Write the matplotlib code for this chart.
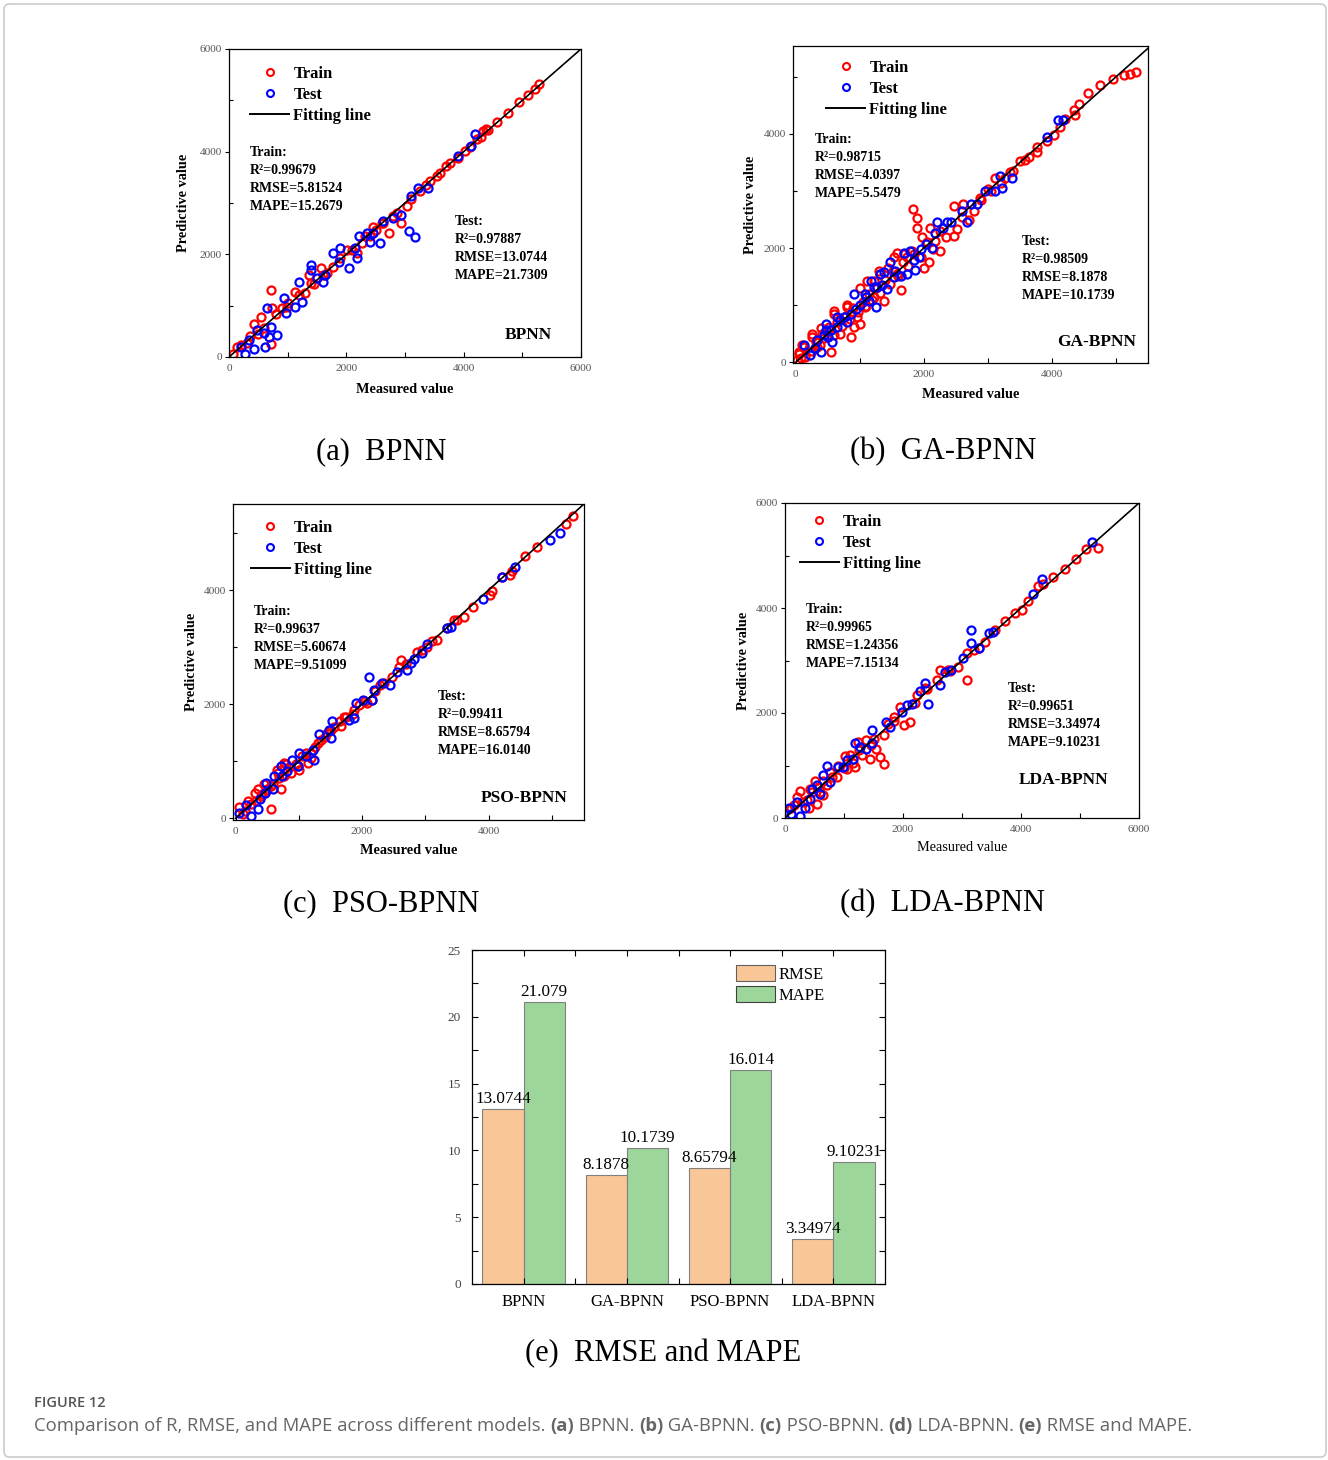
import numpy as np
import matplotlib.pyplot as plt
from matplotlib.lines import Line2D
from matplotlib.patches import FancyBboxPatch, Patch
from matplotlib.ticker import MultipleLocator

plt.rcParams['font.family'] = ['Liberation Serif', 'DejaVu Serif']

# ---------------- data ----------------
a_train_x = [5290, 5210, 5090, 4950, 4750, 4560, 4380, 4330, 4220, 4020, 3760, 3540, 3420, 3250,
             3030, 2940, 2720, 2630, 2460, 2260, 2180, 1780, 1560, 1360, 1300, 1130, 710, 740, 420,
             710, 140, 60, 990, 540, 2010, 1670, 2410, 2860, 3100, 3600, 3700, 4420, 2500, 2320,
             1900, 1450, 1000, 800, 600, 300, 200, 350, 500, 900, 1200, 1400, 1600, 2100, 2600,
             2800, 3350, 3900, 4100, 4300]
a_train_y = [5320, 5220, 5100, 4960, 4760, 4570, 4440, 4400, 4240, 4010, 3780, 3520, 3420, 3230,
             2940, 2610, 2410, 2610, 2540, 2220, 2020, 1760, 1730, 1600, 1240, 1270, 1300, 950, 650,
             260, 200, 65, 980, 780, 2090, 1630, 2350, 2810, 3080, 3580, 3720, 4430, 2480, 2350,
             1920, 1420, 1050, 830, 570, 280, 230, 400, 450, 950, 1200, 1450, 1600, 2080, 2620,
             2750, 3350, 3880, 4100, 4280]
a_test_x = [4190, 4130, 3900, 3400, 3230, 3110, 3170, 3060, 2940, 2800, 2630, 2570, 2400, 2460,
            2350, 2210, 2180, 2150, 2040, 1900, 1780, 1870, 1640, 1610, 1500, 1390, 1390, 1190,
            1250, 1130, 940, 970, 650, 710, 680, 620, 820, 420, 280, 590, 480, 340, 200]
a_test_y = [4350, 4110, 3910, 3290, 3290, 3130, 2330, 2450, 2770, 2710, 2640, 2220, 2250, 2410,
            2410, 2350, 1920, 2120, 1730, 2120, 2020, 1860, 1600, 1470, 1530, 1790, 1700, 1470,
            1080, 980, 1140, 850, 950, 590, 390, 200, 420, 160, 65, 460, 520, 330, 200]

b_train_x = [5320, 5220, 5120, 4960, 4750, 4570, 4420, 4340, 4360, 4210, 4130, 4030, 3920, 3770,
             3770, 3580, 3510, 3350, 3270, 3120, 3010, 2880, 2780, 2620, 2470, 2470, 2520, 2260,
             2180, 2100, 1840, 1900, 1900, 1970, 2000, 2080, 1820, 1740, 1580, 1530, 1450, 1320,
             1220, 1120, 1220, 1090, 960, 910, 810, 700, 600, 520, 420, 700, 550, 260, 130, 50,
             80, 860, 1010, 1380, 1640, 1580, 340, 150, 250, 320, 380, 450, 520, 600, 650, 720,
             780, 850, 900, 980, 1050, 1100, 1150, 1200, 1260, 1320, 1400, 1470, 1520, 1600, 1680,
             1760, 1850, 1950, 2050, 2150, 2250, 2350, 2600, 2700, 2900, 3050, 3200, 3400, 3650,
             1700, 1300, 1000, 800, 600, 400, 250, 100, 60, 30]
b_train_y = [5080, 5055, 5030, 4970, 4850, 4710, 4520, 4420, 4330, 4270, 4130, 3980, 3870, 3780,
             3690, 3550, 3520, 3340, 3230, 3230, 3030, 2880, 2650, 2770, 2740, 2210, 2330, 1950,
             2130, 2360, 2680, 2530, 2360, 2190, 1660, 1750, 1950, 1840, 1920, 1840, 1660, 1550,
             1430, 1430, 1140, 970, 790, 620, 970, 740, 850, 620, 500, 500, 190, 500, 270, 190,
             70, 450, 680, 1080, 1260, 1550, 270, 100, 200, 350, 300, 420, 560, 480, 700, 640,
             820, 760, 950, 880, 1050, 980, 1200, 1100, 1300, 1220, 1450, 1380, 1600, 1520, 1750,
             1680, 1900, 1850, 2100, 1980, 2300, 2200, 2550, 2500, 2850, 3000, 3150, 3350, 3600,
             1900, 1600, 1300, 1000, 900, 600, 450, 300, 150, 50]
b_test_x = [4180, 4100, 3920, 3380, 3190, 3220, 3120, 2960, 2830, 2730, 2680, 2600, 2420, 2360,
            2210, 2180, 2130, 2030, 1950, 1870, 1920, 1790, 1690, 1740, 1640, 1530, 1480, 1380,
            1320, 1430, 1270, 1170, 1220, 1140, 1250, 1090, 910, 940, 860, 750, 700, 650, 650,
            550, 470, 470, 570, 440, 340, 390, 230, 130, 300, 500, 800, 1000, 1100, 1350, 1550,
            1850, 2300]
b_test_y = [4240, 4240, 3950, 3230, 3260, 3060, 3000, 3000, 2770, 2770, 2450, 2650, 2450, 2450,
            2450, 2270, 2010, 2070, 1980, 1610, 1840, 1950, 1920, 1550, 1520, 1490, 1750, 1580,
            1550, 1290, 1320, 1430, 1320, 1080, 970, 1200, 1200, 940, 850, 790, 740, 790, 620,
            560, 680, 560, 360, 480, 390, 190, 130, 300, 250, 450, 700, 1000, 1150, 1350, 1600,
            1800, 2350]

c_train_x = [5340, 5230, 4760, 4580, 4370, 4340, 4210, 4050, 4030, 3760, 3610, 3500, 3340, 3190,
             3030, 2870, 2610, 2580, 2480, 2290, 2160, 2080, 1870, 1720, 1660, 1510, 1450, 1300,
             1190, 1140, 980, 770, 670, 560, 720, 400, 190, 60, 560, 350, 880, 460, 115, 150, 250,
             330, 420, 500, 600, 680, 760, 850, 950, 1050, 1120, 1250, 1350, 1420, 1550, 1650,
             1750, 1850, 1950, 2050, 2200, 2350, 2700, 2950, 3100, 3450, 1000, 1200, 800, 650,
             450, 300]
c_train_y = [5300, 5160, 4750, 4590, 4340, 4270, 4230, 3990, 3910, 3700, 3530, 3470, 3330, 3120,
             3010, 2920, 2770, 2660, 2480, 2340, 2080, 2020, 1900, 1780, 1610, 1550, 1490, 1320,
             1150, 970, 910, 970, 800, 560, 510, 390, 300, 190, 160, 510, 800, 450, 70, 120, 250,
             300, 420, 520, 600, 700, 740, 900, 950, 1100, 1150, 1250, 1380, 1420, 1600, 1700,
             1780, 1820, 1980, 2050, 2230, 2380, 2700, 2950, 3100, 3480, 850, 1050, 950, 850,
             600, 450]
c_test_x = [5130, 4970, 4420, 4210, 3920, 3340, 3400, 3030, 2950, 2820, 2710, 2770, 2560, 2450,
            2320, 2190, 2110, 2160, 2010, 1900, 1870, 1800, 1530, 1480, 1510, 1320, 1240, 1220,
            1110, 1010, 980, 820, 900, 720, 740, 610, 590, 480, 460, 380, 350, 250, 170, 60]
c_test_y = [5010, 4880, 4410, 4230, 3850, 3330, 3350, 3060, 2890, 2800, 2600, 2720, 2570, 2340,
            2370, 2250, 2480, 2080, 2080, 2020, 1760, 1730, 1700, 1550, 1410, 1470, 1030, 1200,
            1090, 1150, 910, 830, 1030, 910, 740, 740, 510, 620, 450, 330, 160, 40, 240, 100]

d_train_x = [5310, 5110, 4940, 4750, 4550, 4380, 4290, 4120, 4010, 3900, 3730, 3560, 3390, 3280,
             3080, 3080, 2940, 2770, 2630, 2570, 2370, 2230, 2120, 2010, 1950, 1840, 1670, 1670,
             1610, 1550, 1380, 1240, 1190, 1020, 880, 760, 710, 540, 510, 250, 110, 200, 420,
             1050, 1440, 650, 150, 300, 380, 450, 560, 650, 800, 900, 1000, 1100, 1250, 1300,
             1450, 1500, 1750, 1850, 2200, 2400, 2800, 3200, 400, 600, 1150]
d_train_y = [5150, 5120, 4930, 4750, 4590, 4450, 4420, 4130, 3970, 3910, 3750, 3590, 3360, 3240,
             3140, 2630, 2880, 2820, 2820, 2630, 2470, 2340, 1830, 1770, 2120, 1930, 1580, 1030,
             1160, 1320, 1480, 1450, 970, 1190, 780, 870, 620, 270, 710, 520, 200, 400, 560,
             940, 1130, 430, 250, 300, 350, 500, 600, 700, 780, 1000, 950, 1200, 1300, 1200,
             1400, 1500, 1800, 1850, 2200, 2450, 2800, 3200, 200, 500, 1050]
d_test_x = [5200, 4350, 4210, 3530, 3450, 3280, 3160, 3160, 3020, 2820, 2710, 2630, 2430, 2370,
            2290, 2150, 2060, 1980, 1780, 1720, 1470, 1470, 1380, 1270, 1190, 1160, 1050, 990,
            900, 710, 650, 760, 590, 450, 420, 340, 250, 200, 60, 110, 540]
d_test_y = [5250, 4560, 4260, 3550, 3520, 3240, 3590, 3330, 3040, 2820, 2790, 2530, 2180, 2570,
            2410, 2180, 2150, 2020, 1740, 1830, 1670, 1420, 1320, 1350, 1420, 1130, 1100, 970,
            970, 1000, 810, 680, 460, 560, 360, 200, 45, 300, 200, 75, 620]

models = ['BPNN', 'GA-BPNN', 'PSO-BPNN', 'LDA-BPNN']
rmse = [13.0744, 8.1878, 8.65794, 3.34974]
mape = [21.079, 10.1739, 16.014, 9.10231]
train_stats = [('0.99679', '5.81524', '15.2679'), ('0.98715', '4.0397', '5.5479'),
               ('0.99637', '5.60674', '9.51099'), ('0.99965', '1.24356', '7.15134')]
test_stats = [('0.97887', '13.0744', '21.7309'), ('0.98509', '8.1878', '10.1739'),
              ('0.99411', '8.65794', '16.0140'), ('0.99651', '3.34974', '9.10231')]
rmse_labels = ['13.0744', '8.1878', '8.65794', '3.34974']
mape_labels = ['21.079', '10.1739', '16.014', '9.10231']

# ---------------- layout ----------------
W, H = 1328, 1460
fig = plt.figure(figsize=(W / 100, H / 100), dpi=100)


def add_ax(l, t, r, b):
    return fig.add_axes([l / W, 1 - b / H, (r - l) / W, (b - t) / H])


def scatter_panel(i, box, xlim, ylim, train, test, leg, tr_pos, te_pos, name_pos,
                  ylab_x, xlab_y, bold_x=True):
    ax = add_ax(*box)
    ax.plot(train[0], train[1], 'o', ls='none', ms=5.8, mew=1.6, mfc='none', mec='#ff0000')
    ax.plot(test[0], test[1], 'o', ls='none', ms=5.8, mew=1.6, mfc='none', mec='#0000ff')
    hi = max(xlim[1], ylim[1])
    ax.plot([0, hi], [0, hi], color='black', lw=1.2)
    ax.set_xlim(*xlim)
    ax.set_ylim(*ylim)
    for s in ax.spines.values():
        s.set_linewidth(0.9)
    ax.xaxis.set_major_locator(MultipleLocator(2000))
    ax.xaxis.set_minor_locator(MultipleLocator(1000))
    ax.yaxis.set_major_locator(MultipleLocator(2000))
    ax.yaxis.set_minor_locator(MultipleLocator(1000))
    ax.tick_params(axis='x', which='both', direction='in', length=3.5, width=0.8, pad=5,
                   labelsize=8.2, labelcolor='#555555')
    ax.tick_params(axis='y', which='major', direction='out', length=3, width=0.8, pad=2,
                   labelsize=8.2, labelcolor='#555555')
    ax.tick_params(axis='y', which='minor', direction='in', length=3, width=0.8)

    handles = [Line2D([], [], marker='o', ls='none', ms=5, mew=1.5, mfc='none', mec='#ff0000'),
               Line2D([], [], marker='o', ls='none', ms=5, mew=1.5, mfc='none', mec='#0000ff'),
               Line2D([], [], color='black', lw=1.4)]
    ax.legend(handles, ['Train', 'Test', 'Fitting line'], loc='upper left',
              bbox_to_anchor=leg, frameon=False, borderpad=0, borderaxespad=0,
              handlelength=2.35, handletextpad=0.25, labelspacing=0.3,
              prop={'weight': 'bold', 'size': 12})

    r2, rm, mp = train_stats[i]
    ax.text(tr_pos[0], tr_pos[1], 'Train:\nR\u00b2=%s\nRMSE=%s\nMAPE=%s' % (r2, rm, mp),
            transform=ax.transAxes, ha='left', va='center', fontsize=10, fontweight='bold',
            linespacing=1.5)
    r2, rm, mp = test_stats[i]
    ax.text(te_pos[0], te_pos[1], 'Test:\nR\u00b2=%s\nRMSE=%s\nMAPE=%s' % (r2, rm, mp),
            transform=ax.transAxes, ha='left', va='center', fontsize=10, fontweight='bold',
            linespacing=1.5)
    ax.text(name_pos[0], name_pos[1], models[i], transform=ax.transAxes, ha='right',
            va='center', fontsize=12.5, fontweight='bold')

    ax.set_ylabel('Predictive value', fontsize=10.3, fontweight='bold')
    ax.yaxis.set_label_coords(ylab_x, 0.5)
    ax.set_xlabel('Measured value', fontsize=10.3, fontweight='bold' if bold_x else 'normal')
    ax.xaxis.set_label_coords(0.5, xlab_y)
    return ax


scatter_panel(0, (229, 49, 581, 357), (0, 6000), (0, 6000),
              (a_train_x, a_train_y), (a_test_x, a_test_y),
              (0.06, 0.945), (0.06, 0.576), (0.642, 0.352), (0.918, 0.071), -0.11, -0.085)
scatter_panel(1, (793, 46, 1148, 363), (-40, 5500), (-10, 5540),
              (b_train_x, b_train_y), (b_test_x, b_test_y),
              (0.093, 0.955), (0.062, 0.62), (0.645, 0.297), (0.966, 0.066), -0.1, -0.08)
scatter_panel(2, (233, 504, 584, 820), (-40, 5510), (-30, 5510),
              (c_train_x, c_train_y), (c_test_x, c_test_y),
              (0.051, 0.949), (0.06, 0.573), (0.584, 0.305), (0.952, 0.07), -0.1, -0.077)
scatter_panel(3, (785, 503, 1139, 818), (0, 6000), (0, 6000),
              (d_train_x, d_train_y), (d_test_x, d_test_y),
              (0.042, 0.965), (0.059, 0.575), (0.63, 0.324), (0.912, 0.121), -0.1, -0.074,
              bold_x=False)

# ---------------- bar chart (e) ----------------
ax = add_ax(472, 950, 885, 1284)
pos = np.arange(1, len(models) + 1)
w = 0.4
b1 = ax.bar(pos - w / 2, rmse, w, color='#F9C697', edgecolor='#808080', lw=0.8, label='RMSE')
b2 = ax.bar(pos + w / 2, mape, w, color='#9DD69A', edgecolor='#808080', lw=0.8, label='MAPE')
for rect, lab in zip(b1, rmse_labels):
    ax.text(rect.get_x() + rect.get_width() / 2, rect.get_height() + 0.15, lab,
            ha='center', va='bottom', fontsize=12.3)
for rect, lab in zip(b2, mape_labels):
    ax.text(rect.get_x() + rect.get_width() / 2, rect.get_height() + 0.15, lab,
            ha='center', va='bottom', fontsize=12.3)
ax.set_xlim(0.5, 4.5)
ax.set_ylim(0, 25)
ax.set_xticks(pos)
ax.set_xticklabels(models, fontsize=12)
ax.set_xticks([1.5, 2.5, 3.5], minor=True)
ax.yaxis.set_major_locator(MultipleLocator(5))
ax.yaxis.set_minor_locator(MultipleLocator(2.5))
ax.tick_params(axis='both', which='both', direction='in', top=True, right=True,
               length=4, width=0.8)
ax.tick_params(axis='y', labelsize=9.5, labelcolor='#444444', pad=8)
ax.tick_params(axis='x', pad=7)
for s in ax.spines.values():
    s.set_linewidth(0.9)
ax.legend(handles=[Patch(fc='#F9C697', ec='#606060', lw=0.8), Patch(fc='#9DD69A', ec='#404040', lw=0.8)],
          labels=['RMSE', 'MAPE'], loc='upper left', bbox_to_anchor=(0.639, 0.955),
          frameon=False, borderpad=0, borderaxespad=0, handlelength=2.35, handleheight=1.1,
          handletextpad=0.2, labelspacing=0.2, fontsize=12)

# ---------------- captions ----------------
caps = [('(a)  BPNN', 381, 452), ('(b)  GA-BPNN', 943, 452), ('(c)  PSO-BPNN', 381, 904),
        ('(d)  LDA-BPNN', 943, 904), ('(e)  RMSE and MAPE', 663, 1354)]
for txt, x, y in caps:
    fig.text(x / W, 1 - y / H, txt, ha='center', va='center', fontsize=22)

fig.text(34 / W, 1 - 1403 / H, 'FIGURE 12', ha='left', va='center', fontsize=10.5,
         family='Open Sans', fontweight='semibold', color='#555555')

parts = [('Comparison of R, RMSE, and MAPE across different models. ', 'normal'),
         ('(a)', 'bold'), (' BPNN. ', 'normal'), ('(b)', 'bold'), (' GA-BPNN. ', 'normal'),
         ('(c)', 'bold'), (' PSO-BPNN. ', 'normal'), ('(d)', 'bold'), (' LDA-BPNN. ', 'normal'),
         ('(e)', 'bold'), (' RMSE and MAPE.', 'normal')]
renderer = fig.canvas.get_renderer()
xc = 34
for s, wgt in parts:
    t = fig.text(xc / W, 1 - 1426 / H, s, ha='left', va='center', fontsize=13.3,
                 family='Open Sans', fontweight=wgt, color='#666666')
    xc += t.get_window_extent(renderer).width

fig.patches.append(FancyBboxPatch((4 / W, 3 / H), 1322 / W, 1453 / H,
                                  boxstyle='round,pad=0,rounding_size=0.004',
                                  transform=fig.transFigure, fc='none', ec='#cccccc', lw=1.2))

fig.savefig('out.png', dpi=100)
